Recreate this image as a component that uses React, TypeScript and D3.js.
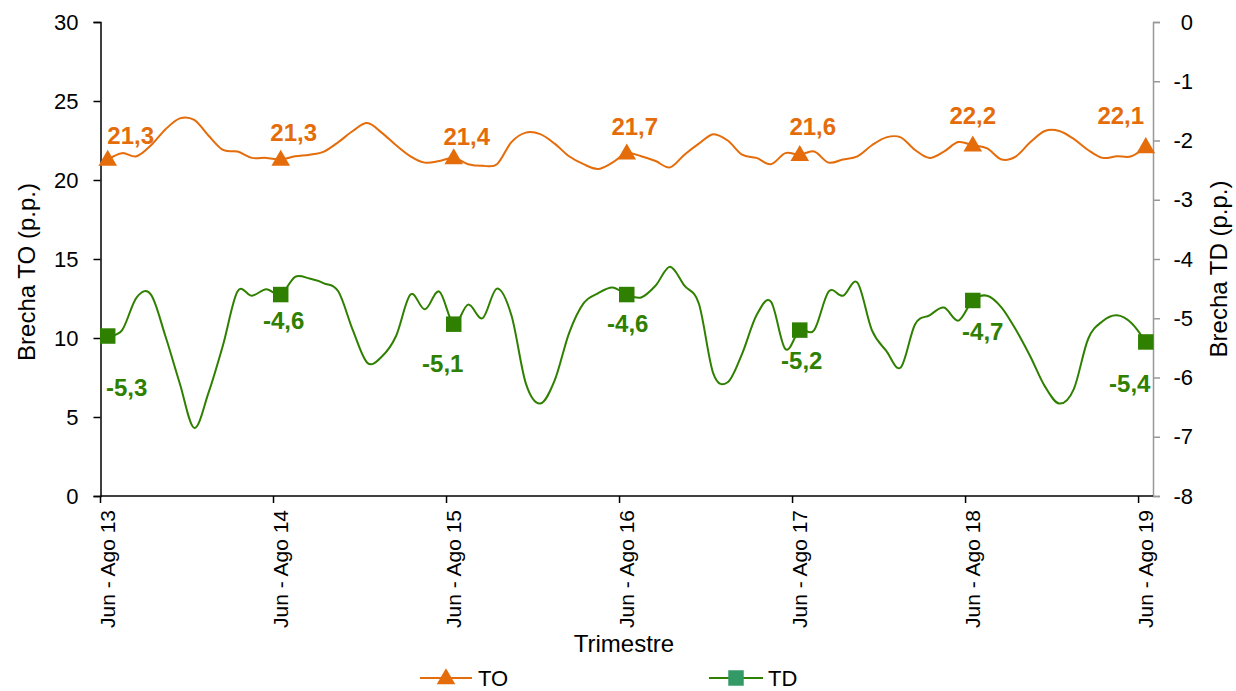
import React, { useEffect, useRef } from "react";
import * as d3 from "d3";

// rolling quarters, first one is Jun - Ago 2013
const quarterNames = [
  "Jun - Ago", "Jul - Sep", "Ago - Oct", "Sep - Nov", "Oct - Dic", "Nov - Ene",
  "Dic - Feb", "Ene - Mar", "Feb - Abr", "Mar - May", "Abr - Jun", "May - Jul",
];
const years = [13, 14, 15, 16, 17, 18, 19];

const toValues = [
  21.3, 21.7, 21.5, 22.2, 23.2, 23.9, 23.8, 22.8, 21.9, 21.8, 21.4, 21.4,
  21.3, 21.5, 21.6, 21.8, 22.4, 23.1, 23.6, 23.0, 22.2, 21.5, 21.1, 21.2,
  21.4, 21.0, 20.9, 21.0, 22.4, 23.0, 22.9, 22.3, 21.5, 21.0, 20.7, 21.1,
  21.7, 21.5, 21.2, 20.8, 21.6, 22.3, 22.9, 22.5, 21.6, 21.4, 21.0, 21.7,
  21.6, 21.8, 21.1, 21.3, 21.5, 22.2, 22.7, 22.7, 21.9, 21.4, 21.8, 22.4,
  22.2, 22.0, 21.3, 21.5, 22.4, 23.1, 23.1, 22.6, 21.9, 21.4, 21.5, 21.5, 22.1,
];

const tdValues = [
  -5.3, -5.2, -4.65, -4.6, -5.3, -6.1, -6.85, -6.25, -5.45, -4.55, -4.62, -4.51,
  -4.6, -4.3, -4.33, -4.41, -4.55, -5.2, -5.75, -5.65, -5.3, -4.6, -4.85, -4.55,
  -5.1, -4.77, -5.0, -4.5, -4.95, -6.1, -6.44, -6.05, -5.25, -4.75, -4.58, -4.48,
  -4.6, -4.65, -4.45, -4.13, -4.45, -4.75, -5.93, -6.08, -5.6, -4.95, -4.72, -5.52,
  -5.2, -5.2, -4.55, -4.62, -4.4, -5.2, -5.55, -5.83, -5.1, -4.95, -4.82, -5.04,
  -4.7, -4.62, -4.82, -5.2, -5.65, -6.15, -6.44, -6.2, -5.35, -5.05, -4.95, -5.08, -5.4,
];

const leftTicks = [0, 5, 10, 15, 20, 25, 30];
const rightTicks = [0, -1, -2, -3, -4, -5, -6, -7, -8];

const categories = toValues.map(
  (_, i) => `${quarterNames[i % 12]} ${years[0] + Math.floor((i + 5) / 12)}`
);

const ORANGE = "#E46C0A";
const GREEN = "#2F8000";
const FONT = "Arial, 'Liberation Sans', sans-serif";

const App = () => {
  const ref = useRef(null);

  useEffect(() => {
    const svg = d3.select(ref.current);
    svg.selectAll("*").remove();

    const left = 100.5, right = 1153, top = 22, bottom = 496;

    const x = d3.scaleBand().domain(d3.range(categories.length) as any).range([left, right]);
    const cx = (i) => x(i as any) + x.bandwidth() / 2;
    const yL = d3.scaleLinear().domain([0, 30]).range([bottom, top]);
    const yR = d3.scaleLinear().domain([-8, 0]).range([bottom, top]);

    const markerIdx = d3.range(0, categories.length, 12);

    // left axis
    const gl = svg.append("g").attr("transform", `translate(${left},0)`)
      .call(d3.axisLeft(yL).tickValues(leftTicks).tickSize(7).tickPadding(15));
    gl.select(".domain").attr("stroke", "#000").attr("stroke-width", 1.5);
    gl.selectAll(".tick line").attr("stroke", "#000").attr("stroke-width", 1.5);
    gl.selectAll("text").attr("font-size", 22).attr("font-family", FONT).attr("fill", "#000");

    // right axis
    const gr = svg.append("g").attr("transform", `translate(${right},0)`)
      .call(d3.axisRight(yR).tickValues(rightTicks).tickSize(7).tickFormat((d) => String(d)));
    gr.select(".domain").attr("stroke", "#999").attr("stroke-width", 1.5);
    gr.selectAll(".tick line").attr("stroke", "#999").attr("stroke-width", 1.5);
    gr.selectAll("text").attr("font-size", 22).attr("font-family", FONT).attr("fill", "#000")
      .attr("text-anchor", "end").attr("x", 40);

    // bottom axis
    svg.append("line").attr("x1", left).attr("x2", right).attr("y1", bottom).attr("y2", bottom)
      .attr("stroke", "#000").attr("stroke-width", 1.5);
    markerIdx.forEach((i) => {
      const bx = x(i as any);
      svg.append("line").attr("x1", bx).attr("x2", bx).attr("y1", bottom).attr("y2", bottom + 7)
        .attr("stroke", "#000").attr("stroke-width", 1.5);
      svg.append("text")
        .attr("transform", `translate(${cx(i) + 7},${bottom + 14}) rotate(-90)`)
        .attr("text-anchor", "end")
        .attr("font-size", 21).attr("font-family", FONT)
        .text(categories[i]);
    });

    // axis titles
    svg.append("text").attr("transform", `translate(35,272) rotate(-90)`)
      .attr("text-anchor", "middle").attr("font-size", 24).attr("font-family", FONT)
      .text("Brecha TO (p.p.)");
    svg.append("text").attr("transform", `translate(1227,269) rotate(-90)`)
      .attr("text-anchor", "middle").attr("font-size", 24).attr("font-family", FONT)
      .text("Brecha TD (p.p.)");
    svg.append("text").attr("x", 624).attr("y", 652)
      .attr("text-anchor", "middle").attr("font-size", 24).attr("font-family", FONT)
      .text("Trimestre");

    const curve = d3.curveCatmullRom.alpha(0);

    // TO line
    svg.append("path").datum(toValues)
      .attr("fill", "none").attr("stroke", ORANGE).attr("stroke-width", 2)
      .attr("d", d3.line<number>().x((_, i) => cx(i)).y((d) => yL(d)).curve(curve));

    // TD line
    svg.append("path").datum(tdValues)
      .attr("fill", "none").attr("stroke", GREEN).attr("stroke-width", 2)
      .attr("d", d3.line<number>().x((_, i) => cx(i)).y((d) => yR(d)).curve(curve));

    const tri = d3.symbol().type(d3.symbolTriangle).size(150);
    const sq = d3.symbol().type(d3.symbolSquare).size(240);
    const fmt = (v) => v.toFixed(1).replace(".", ",");

    // label nudges (px) for each marked quarter, as placed in the original
    const toDx = [23, 13, 13, 8, 13, 0, -25];
    const toDy = [-15, -18, -13, -18, -20, -21, -23];
    const tdDx = [19, 3, -11, 1, 2, 10, -16];
    const tdDy = [60, 34, 48, 37, 39, 40, 50];

    markerIdx.forEach((i, k) => {
      svg.append("path").attr("d", tri)
        .attr("transform", `translate(${cx(i)},${yL(toValues[i]) + 1})`)
        .attr("fill", ORANGE);
      svg.append("path").attr("d", sq)
        .attr("transform", `translate(${cx(i)},${yR(tdValues[i])})`)
        .attr("fill", GREEN);
      svg.append("text").attr("x", cx(i) + toDx[k]).attr("y", yL(toValues[i]) + toDy[k])
        .attr("text-anchor", "middle").attr("font-size", 24).attr("font-weight", "bold")
        .attr("font-family", FONT).attr("fill", ORANGE).text(fmt(toValues[i]));
      svg.append("text").attr("x", cx(i) + tdDx[k]).attr("y", yR(tdValues[i]) + tdDy[k])
        .attr("text-anchor", "middle").attr("font-size", 24).attr("font-weight", "bold")
        .attr("font-family", FONT).attr("fill", GREEN).text(fmt(tdValues[i]));
    });

    // legend
    const lg = svg.append("g");
    lg.append("line").attr("x1", 420).attr("x2", 472).attr("y1", 678).attr("y2", 678)
      .attr("stroke", ORANGE).attr("stroke-width", 2);
    lg.append("path").attr("d", tri).attr("transform", "translate(446,679)").attr("fill", ORANGE);
    lg.append("text").attr("x", 478).attr("y", 686).attr("font-size", 22).attr("font-family", FONT)
      .text("TO");
    lg.append("line").attr("x1", 709).attr("x2", 763).attr("y1", 678).attr("y2", 678)
      .attr("stroke", GREEN).attr("stroke-width", 2);
    lg.append("path").attr("d", sq).attr("transform", "translate(736,678)").attr("fill", "#339966");
    lg.append("text").attr("x", 768).attr("y", 686).attr("font-size", 22).attr("font-family", FONT)
      .text("TD");
  }, []);

  return (
    <svg
      ref={ref}
      width={1236}
      height={691}
      style={{ position: "absolute", left: 0, top: 0, background: "#fff" }}
    />
  );
};

export default App;
